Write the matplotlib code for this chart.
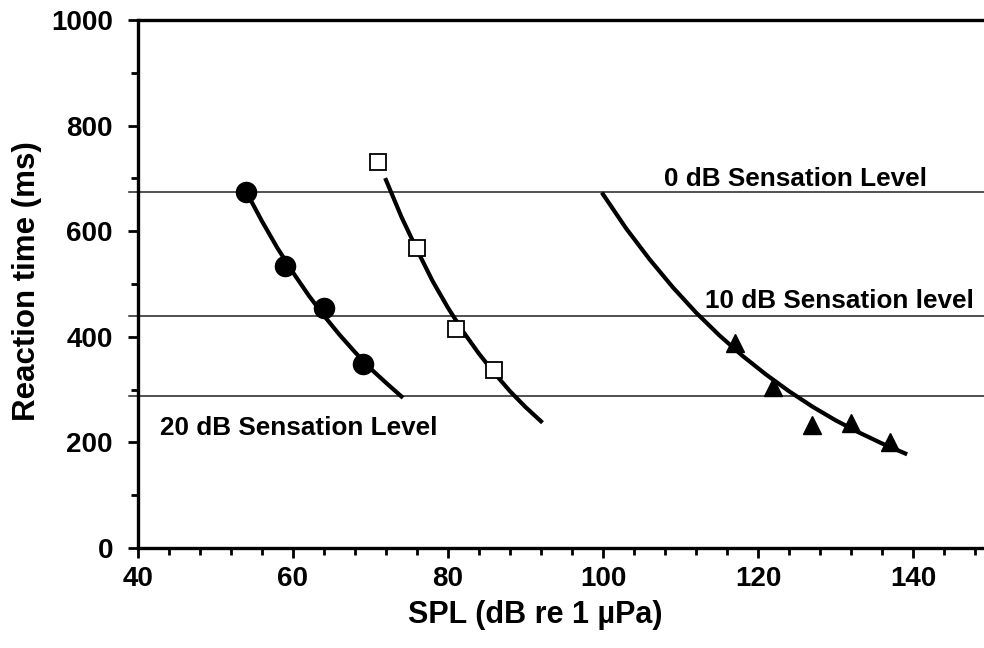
import matplotlib
matplotlib.use("Agg")
import matplotlib.pyplot as plt
from matplotlib.ticker import MultipleLocator

plt.rcParams['font.family'] = ['Liberation Sans', 'DejaVu Sans']

# Data
circle_x = [54, 59, 64, 69]
circle_y = [674, 534, 455, 348]
circle_curve_x = [54, 56, 58, 60, 62, 64, 66, 68, 70, 72, 74]
circle_curve_y = [674, 619, 568, 522, 479, 440, 404, 371, 340, 313, 287]

square_x = [71, 76, 81, 86]
square_y = [732, 569, 414, 338]
square_curve_x = [72, 74, 76, 78, 80, 82, 84, 86, 88, 90, 92]
square_curve_y = [697, 627, 565, 506, 455, 409, 368, 331, 297, 267, 240]

tri_x = [117, 122, 127, 132, 137]
tri_y = [388, 305, 233, 236, 201]
tri_curve_x = [100, 103, 106, 109, 112, 115, 118, 121, 124, 127, 130, 133, 136, 139]
tri_curve_y = [670, 605, 547, 494, 446, 403, 364, 329, 297, 268, 242, 219, 198, 179]

sensation_levels = [674, 440, 288]
sensation_labels = ["0 dB Sensation Level", "10 dB Sensation level", "20 dB Sensation Level"]
label_x = [107.9, 113.1, 42.8]
label_y = [698, 468, 228]

fig = plt.figure(figsize=(9.84, 6.48), dpi=100)
ax = fig.add_axes([0.1402, 0.1543, 0.8664, 0.8148])
ax.set_xlim(40, 150)
ax.set_ylim(0, 1000)

for lvl in sensation_levels:
    ax.plot([38.8, 150], [lvl, lvl], color='#222222', lw=1.1, clip_on=False, zorder=1)

ax.plot(circle_curve_x, circle_curve_y, color='black', lw=3, zorder=2)
ax.plot(square_curve_x, square_curve_y, color='black', lw=3, zorder=2)
ax.plot(tri_curve_x, tri_curve_y, color='black', lw=3, zorder=2)

ax.plot(circle_x, circle_y, 'o', color='black', ms=14.5, zorder=3, clip_on=False)
ax.plot(square_x, square_y, 's', mfc='white', mec='black', mew=1.3, ms=12, zorder=3, clip_on=False)
ax.plot(tri_x, tri_y, '^', color='black', ms=13, zorder=3, clip_on=False)

tfont = dict(fontsize=18.8, fontweight='bold')
for lx, ly, lab in zip(label_x, label_y, sensation_labels):
    ax.text(lx, ly, lab, ha='left', va='center', **tfont)

ax.spines['right'].set_visible(False)
for s in ['left', 'bottom', 'top']:
    ax.spines[s].set_linewidth(2.4)

ax.xaxis.set_major_locator(MultipleLocator(20))
ax.xaxis.set_minor_locator(MultipleLocator(4))
ax.yaxis.set_major_locator(MultipleLocator(200))
ax.yaxis.set_minor_locator(MultipleLocator(100))
ax.tick_params(axis='both', which='major', direction='out', length=7, width=2, labelsize=20)
ax.tick_params(axis='x', which='major', pad=6)
ax.tick_params(axis='y', which='major', pad=11)
ax.tick_params(axis='both', which='minor', direction='out', length=5, width=2)
ax.tick_params(top=False, right=False, which='both')
for lab in ax.get_xticklabels() + ax.get_yticklabels():
    lab.set_fontweight('bold')

fig.text(535 / 984, 1 - 615 / 648, "SPL (dB re 1 µPa)", fontsize=22, fontweight='bold',
         ha='center', va='center')
fig.text(27 / 984, 1 - 281 / 648, "Reaction time (ms)", fontsize=22.5, fontweight='bold',
         ha='center', va='center', rotation=90)

fig.savefig("out.png", dpi=100)
